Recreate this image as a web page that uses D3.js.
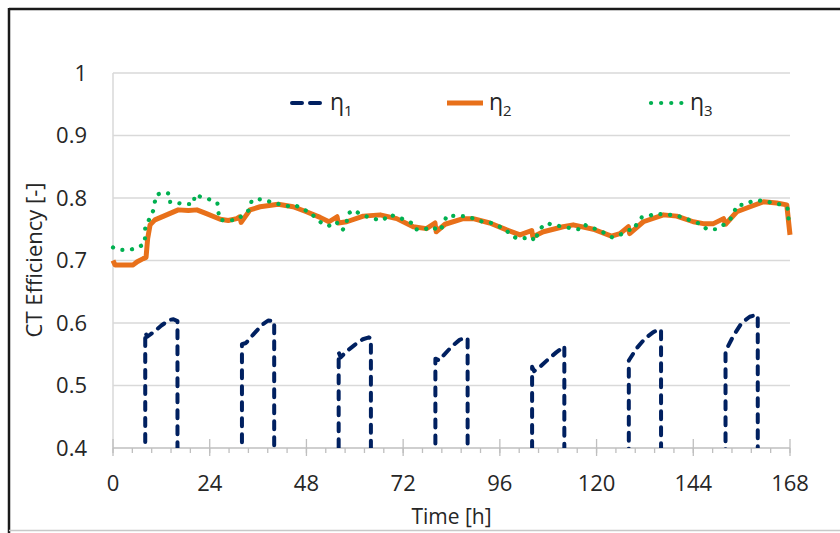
<!DOCTYPE html>
<html>
<head>
<meta charset="utf-8">
<script src="https://cdn.jsdelivr.net/npm/d3@7"></script>
<style>
  html, body { margin: 0; padding: 0; background: #fff; }
  svg { display: block; }
  text { font-family: "Open Sans", "Noto Sans", sans-serif; fill: #262626; }
</style>
</head>
<body>
<svg id="chart" width="840" height="533"></svg>
<script>
// ---- data ----
const yTicks = [0.4, 0.5, 0.6, 0.7, 0.8, 0.9, 1];
const xTicks = [0, 24, 48, 72, 96, 120, 144, 168];
const seriesNames = ["η1", "η2", "η3"];

// eta1: [hour, value] pairs (0 outside operating periods)
const eta1 = [
  [8,0],[8,0.585],[8.5,0.578],[10,0.585],[12,0.596],[14,0.605],[15,0.606],[16,0.603],[16,0],
  [32,0],[32,0.566],[33,0.568],[35,0.583],[37,0.597],[38.5,0.604],[40,0.603],[40,0],
  [56,0],[56,0.553],[56.5,0.545],[58,0.555],[60,0.565],[62,0.574],[63.5,0.577],[64,0.575],[64,0],
  [80,0],[80,0.543],[81,0.540],[82,0.548],[84,0.562],[86,0.573],[87.5,0.577],[88,0.575],[88,0],
  [104,0],[104,0.530],[104.5,0.523],[106,0.530],[108,0.542],[110,0.553],[112,0.563],[112,0],
  [128,0],[128,0.540],[130,0.560],[132,0.575],[134,0.585],[135.5,0.590],[136,0.589],[136,0],
  [152,0],[152,0.555],[154,0.580],[156,0.600],[158,0.610],[159.5,0.613],[160,0.612],[160,0]
];

const eta2 = [
  [0,0.700],[0.5,0.693],[3,0.693],[5,0.693],[6,0.698],[7.5,0.703],[8.2,0.705],[8.6,0.735],[9.2,0.757],
  [10.4,0.765],[13.3,0.773],[16.2,0.781],[18.7,0.780],[20.8,0.781],[23.2,0.775],[26.6,0.766],
  [28.6,0.764],[30.7,0.767],[31.5,0.770],[31.8,0.761],[34,0.781],[36.5,0.786],[41,0.790],
  [44.7,0.786],[48,0.778],[51.4,0.769],[53.6,0.762],[55.6,0.770],[55.9,0.760],[58,0.762],
  [62.1,0.771],[66.3,0.773],[70.4,0.767],[74.5,0.754],[77.8,0.751],[79.9,0.760],[80.2,0.746],
  [82.4,0.758],[86.9,0.767],[89.4,0.767],[93.5,0.760],[97.7,0.749],[101,0.741],[103.9,0.748],
  [104.2,0.738],[106.8,0.746],[111.7,0.754],[114.2,0.757],[119.2,0.750],[123.7,0.739],
  [125.8,0.743],[127.9,0.754],[128.2,0.743],[131.6,0.762],[136.6,0.773],[139.9,0.771],
  [144,0.762],[146.5,0.759],[149,0.759],[151.5,0.767],[152,0.758],[154.8,0.778],[158.1,0.786],
  [161.4,0.794],[164.7,0.792],[167.2,0.789],[168,0.741]
];

const eta3 = [
  [0,0.721],[2,0.717],[4,0.717],[6,0.720],[7.9,0.727],[8,0.755],[9,0.766],[10,0.780],[10.7,0.805],
  [12.5,0.809],[14,0.807],[14.2,0.793],[16,0.792],[18.1,0.790],[20.1,0.791],[20.2,0.805],
  [22.3,0.801],[24.3,0.797],[25.9,0.792],[26.4,0.765],[28.6,0.764],[30.7,0.765],[32.5,0.774],
  [34,0.782],[34.4,0.796],[36.1,0.798],[37.7,0.797],[39.4,0.793],[41.4,0.790],[43.3,0.787],
  [45.2,0.789],[46.8,0.782],[48.9,0.778],[50.1,0.769],[51.6,0.761],[53.4,0.755],[55.5,0.762],
  [56,0.754],[57,0.749],[58,0.759],[58.1,0.774],[59.8,0.781],[60.9,0.776],[62.1,0.772],
  [65.3,0.766],[67.2,0.765],[68.2,0.773],[70.1,0.771],[72,0.766],[74.1,0.760],[74.9,0.750],
  [77,0.749],[79.1,0.754],[81.1,0.747],[82.1,0.759],[82.8,0.772],[86.1,0.771],[87.8,0.771],
  [89.9,0.766],[91.7,0.762],[93.5,0.761],[95.6,0.755],[97.5,0.750],[98.5,0.741],[100.4,0.735],
  [102.5,0.736],[104.1,0.737],[104.5,0.730],[106,0.751],[107.6,0.760],[108.6,0.758],
  [110.1,0.756],[111.7,0.754],[113.4,0.752],[115.5,0.750],[116.7,0.758],[118.8,0.752],
  [120.8,0.749],[122.3,0.742],[123.9,0.737],[125.8,0.741],[128,0.749],[129.1,0.748],
  [130.1,0.760],[131.2,0.769],[132.6,0.770],[134.5,0.775],[136.2,0.774],[138.2,0.773],
  [140.3,0.771],[142.2,0.767],[144,0.762],[146.1,0.758],[147.3,0.750],[149.6,0.750],
  [151.5,0.757],[153.1,0.765],[154.1,0.777],[154.9,0.789],[156.6,0.789],[158.3,0.794],
  [160.3,0.796],[162.2,0.794],[164.3,0.792],[165.9,0.789],[167.4,0.783],[167.6,0.770],[167.8,0.754]
];

// ---- layout ----
const svg = d3.select("#chart");
const pL = 113, pR = 790, pT = 73, pB = 448;

const x = d3.scaleLinear().domain([0, 168]).range([pL, pR]);
const y = d3.scaleLinear().domain([0.4, 1]).range([pB, pT]);

// frame
svg.append("line").attr("x1", 9).attr("x2", 840).attr("y1", 9).attr("y2", 9)
  .attr("stroke", "#1a1a1a").attr("stroke-width", 2.5);
svg.append("line").attr("x1", 9).attr("x2", 9).attr("y1", 8).attr("y2", 533)
  .attr("stroke", "#1a1a1a").attr("stroke-width", 2.5);
svg.append("line").attr("x1", 9).attr("x2", 840).attr("y1", 530.5).attr("y2", 530.5)
  .attr("stroke", "#c8c8c8").attr("stroke-width", 1.5);

// gridlines
svg.append("g").selectAll("line").data(yTicks.filter(d => d > 0.4)).join("line")
  .attr("x1", pL).attr("x2", pR)
  .attr("y1", d => y(d)).attr("y2", d => y(d))
  .attr("stroke", "#d9d9d9").attr("stroke-width", 1.5);

// left axis line
svg.append("line").attr("x1", pL).attr("x2", pL).attr("y1", pT).attr("y2", pB)
  .attr("stroke", "#d9d9d9").attr("stroke-width", 1.5);

// y tick labels
svg.append("g").selectAll("text").data(yTicks).join("text")
  .attr("x", 87).attr("y", d => y(d)).attr("dy", "0.35em")
  .attr("text-anchor", "end").attr("font-size", 22)
  .text(d => d3.format("~g")(d));

// x axis with ticks
const xAxisG = svg.append("g").attr("transform", `translate(0,${pB})`);
xAxisG.append("line").attr("x1", pL).attr("x2", pR).attr("y1", 0).attr("y2", 0)
  .attr("stroke", "#bfbfbf").attr("stroke-width", 1.5);
const minorTicks = d3.range(0, 168.01, 4.8);
xAxisG.selectAll("line.minor").data(minorTicks).join("line").attr("class", "minor")
  .attr("x1", d => x(d)).attr("x2", d => x(d)).attr("y1", 0).attr("y2", 5)
  .attr("stroke", "#bfbfbf").attr("stroke-width", 1.3);
xAxisG.selectAll("line.major").data(xTicks).join("line").attr("class", "major")
  .attr("x1", d => x(d)).attr("x2", d => x(d)).attr("y1", -9).attr("y2", 8)
  .attr("stroke", "#bfbfbf").attr("stroke-width", 1.3);
xAxisG.selectAll("text").data(xTicks).join("text")
  .attr("x", d => x(d)).attr("y", 43)
  .attr("text-anchor", "middle").attr("font-size", 22)
  .text(d => d);

// axis titles
svg.append("text").attr("x", (pL + pR) / 2).attr("y", 524)
  .attr("text-anchor", "middle").attr("font-size", 21).text("Time [h]");
svg.append("text").attr("transform", `translate(42,260) rotate(-90)`)
  .attr("text-anchor", "middle").attr("font-size", 22).text("CT Efficiency [-]");

// clip
svg.append("defs").append("clipPath").attr("id", "plotclip")
  .append("rect").attr("x", pL - 5).attr("y", pT - 10)
  .attr("width", pR - pL + 10).attr("height", pB - pT + 10);

const line = d3.line().x(d => x(d[0])).y(d => y(d[1]));
const plot = svg.append("g").attr("clip-path", "url(#plotclip)");

const styles = [
  { color: "#002060", width: 4, dash: "8,8", cap: "round" },
  { color: "#E8701A", width: 5, dash: null, cap: "butt" },
  { color: "#00B050", width: 4.2, dash: "0.1,9.6", cap: "round" }
];
const data = [eta1, eta2, eta3];

[0, 1, 2].forEach(i => {
  const s = styles[i];
  plot.append("path").datum(data[i])
    .attr("d", line)
    .attr("fill", "none")
    .attr("stroke", s.color)
    .attr("stroke-width", s.width)
    .attr("stroke-linecap", s.cap)
    .attr("stroke-linejoin", "round")
    .attr("stroke-dasharray", s.dash);
});

// legend
const legendPos = [{ x1: 292, x2: 324, tx: 330 }, { x1: 447, x2: 483, tx: 489 }, { x1: 651, x2: 685, tx: 690 }];
const legY = 103;
seriesNames.forEach((name, i) => {
  const s = styles[i], p = legendPos[i];
  svg.append("line").attr("x1", p.x1).attr("x2", p.x2).attr("y1", legY).attr("y2", legY)
    .attr("stroke", s.color).attr("stroke-width", s.width)
    .attr("stroke-linecap", s.cap)
    .attr("stroke-dasharray", i === 0 ? "10,8" : (i === 2 ? "0.1,10" : null));
  const t = svg.append("text").attr("x", p.tx).attr("y", legY + 7).attr("font-size", 23);
  t.append("tspan").text(name.charAt(0));
  t.append("tspan").attr("font-size", 15).attr("dy", 6).text(name.slice(1));
});
</script>
</body>
</html>
